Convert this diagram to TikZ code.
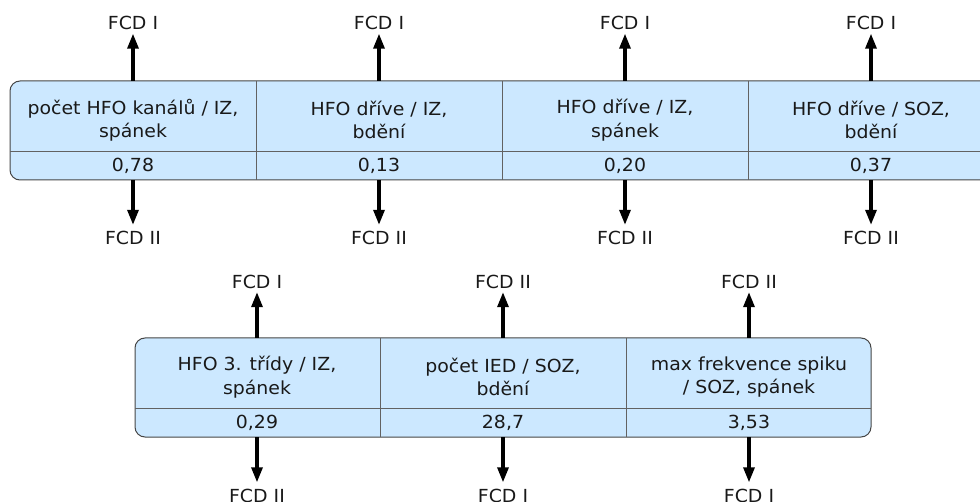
\documentclass[tikz,border=0pt]{standalone}
\usepackage{fontspec}
\setmainfont{DejaVu Sans}[FakeStretch=1.05]
\usetikzlibrary{arrows.meta}
\definecolor{cellblue}{RGB}{204,232,255}
\definecolor{edgegray}{RGB}{70,70,70}

\begin{document}
\begin{tikzpicture}[x=1pt,y=-1pt,
  panel/.style={draw=edgegray, fill=cellblue, line width=1pt, rounded corners=10pt},
  sep/.style={draw=edgegray!85, line width=0.9pt},
  celltext/.style={font=\fontsize{18}{23.5}\selectfont, align=center, text=black!90, inner sep=0pt},
  lbl/.style={font=\fontsize{18}{22}\selectfont, text=black!90, inner sep=0pt, text height=13pt, text depth=0pt},
  link/.style={line width=3.2pt, -{Triangle[width=11pt,length=15pt]}}]

\useasboundingbox (0,0) rectangle (980,502);
\clip (0,0) rectangle (980,502);

% ---------- upper table ----------
\draw[panel] (10,81) rectangle (994,180);
\draw[sep] (10,151) -- (994,151);
\foreach \x in {256,502,748} \draw[sep] (\x,81) -- (\x,180);

\node[celltext] (h1) at (133,120) {počet HFO kanálů / IZ,\\spánek};
\node[celltext] (h2) at (379,120) {HFO dříve / IZ,\\bdění};
\node[celltext] (h3) at (625,120) {HFO dříve / IZ,\\spánek};
\node[celltext] (h4) at (871,120) {HFO dříve / SOZ,\\bdění};

\node[celltext] (v1) at (133,166) {0,78};
\node[celltext] (v2) at (379,166) {0,13};
\node[celltext] (v3) at (625,166) {0,20};
\node[celltext] (v4) at (871,166) {0,37};

\foreach \i/\x/\up/\dn in {1/133/FCD I/FCD II, 2/379/FCD I/FCD II, 3/625/FCD I/FCD II, 4/871/FCD I/FCD II} {
  \coordinate (tt\i) at (\x,81);
  \coordinate (tb\i) at (\x,180);
  \node[lbl] (tu\i) at (\x,23.5) {\up};
  \node[lbl] (td\i) at (\x,238.5) {\dn};
  \draw[link, shorten >=3.5pt] (tt\i) -- (tu\i.south);
  \draw[link, shorten >=7pt] (tb\i) -- (td\i.north);
}

% ---------- lower table ----------
\draw[panel] (135,338) rectangle (871,437);
\draw[sep] (135,408) -- (871,408);
\foreach \x in {380,626} \draw[sep] (\x,338) -- (\x,437);

\node[celltext] (g1) at (257,377) {HFO 3. třídy / IZ,\\spánek};
\node[celltext] (g2) at (503,377) {počet IED / SOZ,\\bdění};
\node[celltext] (g3) at (749,377) {max frekvence spiku\\/ SOZ, spánek};

\node[celltext] (w1) at (257,423) {0,29};
\node[celltext] (w2) at (503,423) {28,7};
\node[celltext] (w3) at (749,423) {3,53};

\foreach \i/\x/\up/\dn in {1/257/FCD I/FCD II, 2/503/FCD II/FCD I, 3/749/FCD II/FCD I} {
  \coordinate (bt\i) at (\x,338);
  \coordinate (bb\i) at (\x,437);
  \node[lbl] (bu\i) at (\x,282.5) {\up};
  \node[lbl] (bd\i) at (\x,495.5) {\dn};
  \draw[link, shorten >=3pt] (bt\i) -- (bu\i.south);
  \draw[link, shorten >=6.5pt] (bb\i) -- (bd\i.north);
}
\end{tikzpicture}
\end{document}
